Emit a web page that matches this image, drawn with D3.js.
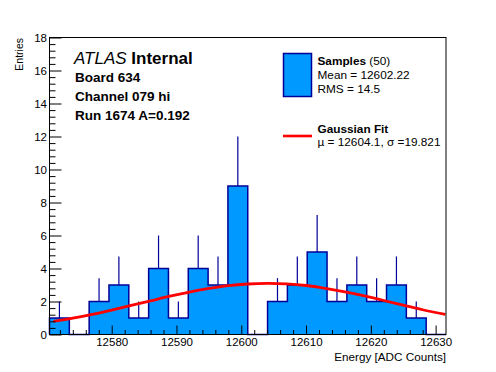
<!DOCTYPE html>
<html>
<head>
<meta charset="utf-8">
<script src="https://cdn.jsdelivr.net/npm/d3@7"></script>
<style>
  body { margin: 0; background: #fff; }
  text { font-family: "Liberation Sans", Arial, sans-serif; }
</style>
</head>
<body>
<div id="chart"></div>
<script>
// histogram bin contents (20 bins across the x range)
var binCounts = [1, 0, 2, 3, 1, 4, 1, 4, 3, 9, 0, 2, 3, 5, 2, 3, 2, 3, 1, 0];
var xRange = [12570.4, 12631.6];
var yRange = [0, 18];
var xTicks = [12580, 12590, 12600, 12610, 12620, 12630];
var yTicks = [0, 2, 4, 6, 8, 10, 12, 14, 16, 18];

// gaussian fit curve
var fitEnergy = [12571, 12574, 12577, 12580, 12583, 12586, 12589, 12592, 12595, 12598, 12601, 12604, 12607, 12610, 12613, 12616, 12619, 12622, 12625, 12628, 12631.5];
var fitValue  = [0.79, 0.99, 1.22, 1.48, 1.76, 2.04, 2.32, 2.57, 2.79, 2.96, 3.06, 3.1, 3.07, 2.97, 2.8, 2.59, 2.34, 2.06, 1.78, 1.5, 1.22];

var svgWidth = 496, svgHeight = 372;
var plotL = 49.5, plotR = 446, plotT = 37.5, plotB = 334.5;
var blueFill = "#0099ff", blueLine = "#000099";

var svg = d3.select("#chart").append("svg")
    .attr("width", svgWidth)
    .attr("height", svgHeight);

var x = d3.scaleLinear().domain(xRange).range([plotL, plotR]);
var y = d3.scaleLinear().domain(yRange).range([plotB, plotT]);

var nBins = binCounts.length;
var binW = (xRange[1] - xRange[0]) / nBins;

// histogram step outline
var pts = [[x(xRange[0]), y(0)]];
binCounts.forEach(function(c, i) {
    var lo = xRange[0] + i * binW, hi = lo + binW;
    pts.push([x(lo), y(c)]);
    pts.push([x(hi), y(c)]);
});
pts.push([x(xRange[1]), y(0)]);

svg.append("path")
    .attr("d", d3.line()(pts))
    .attr("fill", blueFill)
    .attr("stroke", blueLine)
    .attr("stroke-width", 1.5);

// error bars (upper half shows above the fill)
svg.selectAll(".err")
    .data(binCounts.map(function(c, i) { return {c: c, i: i}; }).filter(function(d) { return d.c > 0; }))
    .enter().append("line")
    .attr("class", "err")
    .attr("x1", function(d) { return x(xRange[0] + (d.i + 0.5) * binW); })
    .attr("x2", function(d) { return x(xRange[0] + (d.i + 0.5) * binW); })
    .attr("y1", function(d) { return y(d.c); })
    .attr("y2", function(d) { return y(d.c + Math.sqrt(d.c)); })
    .attr("stroke", blueLine)
    .attr("stroke-width", 1.2);

// fit line
var fitLine = d3.line()
    .x(function(d) { return x(d[0]); })
    .y(function(d) { return y(d[1]); })
    .curve(d3.curveCatmullRom);
svg.append("path")
    .attr("d", fitLine(fitEnergy.map(function(e, i) { return [e, fitValue[i]]; })))
    .attr("fill", "none")
    .attr("stroke", "#ff0000")
    .attr("stroke-width", 2.8);

// axes
var xMinor = d3.range(12572, 12631, 2).filter(function(v) { return xTicks.indexOf(v) < 0; });
var yMinor = d3.range(0, 18.01, 0.4).filter(function(v) { return Math.abs(v / 2 - Math.round(v / 2)) > 0.01; });

var gx = svg.append("g").attr("transform", "translate(0," + plotB + ")");
gx.call(d3.axisBottom(x).tickValues(xTicks).tickSize(-9).tickPadding(3.5).tickFormat(d3.format("d")));
gx.append("g").call(d3.axisBottom(x).tickValues(xMinor).tickSize(-4.5).tickFormat(""));

var gy = svg.append("g").attr("transform", "translate(" + plotL + ",0)");
gy.call(d3.axisLeft(y).tickValues(yTicks).tickSize(-12).tickPadding(2.5));
gy.append("g").call(d3.axisLeft(y).tickValues(yMinor).tickSize(-6).tickFormat(""));

svg.selectAll(".domain").remove();
svg.selectAll(".tick line").attr("stroke", "#000").attr("stroke-width", 1);
svg.selectAll(".tick text").attr("font-size", "11.5px").attr("fill", "#000")
    .style("font-family", "'Liberation Sans', Arial, sans-serif");

// frame
svg.append("rect")
    .attr("x", plotL).attr("y", plotT)
    .attr("width", plotR - plotL).attr("height", plotB - plotT)
    .attr("fill", "none").attr("stroke", "#000").attr("stroke-width", 1);

// axis titles
svg.append("text")
    .attr("x", plotR).attr("y", 361)
    .attr("text-anchor", "end").attr("font-size", "11.7px")
    .text("Energy [ADC Counts]");
svg.append("text")
    .attr("transform", "translate(23,38) rotate(-90)")
    .attr("text-anchor", "end").attr("font-size", "10.5px")
    .text("Entries");

// ATLAS label block
var atlas = svg.append("text").attr("x", 74).attr("y", 64).attr("font-size", "17px");
atlas.append("tspan").attr("font-style", "italic").text("ATLAS");
atlas.append("tspan").attr("font-weight", "bold").text(" Internal");

var info = ["Board 634", "Channel 079 hi", "Run 1674 A=0.192"];
var infoY = [82, 101, 120];
info.forEach(function(t, i) {
    svg.append("text").attr("x", 75).attr("y", infoY[i])
        .attr("font-size", "13.5px").attr("font-weight", "bold").text(t);
});

// legend
svg.append("rect")
    .attr("x", 283.5).attr("y", 53.5).attr("width", 28).attr("height", 43)
    .attr("fill", blueFill).attr("stroke", blueLine).attr("stroke-width", 1.5);
var s = svg.append("text").attr("x", 317.5).attr("y", 65).attr("font-size", "11.8px");
s.append("tspan").attr("font-weight", "bold").text("Samples");
s.append("tspan").text(" (50)");
svg.append("text").attr("x", 317.5).attr("y", 79).attr("font-size", "11.8px").text("Mean = 12602.22");
svg.append("text").attr("x", 317.5).attr("y", 92.5).attr("font-size", "11.8px").text("RMS = 14.5");

svg.append("line")
    .attr("x1", 283).attr("x2", 312).attr("y1", 136).attr("y2", 136)
    .attr("stroke", "#ff0000").attr("stroke-width", 2.6);
svg.append("text").attr("x", 317.5).attr("y", 132.5).attr("font-size", "11.8px")
    .attr("font-weight", "bold").text("Gaussian Fit");
svg.append("text").attr("x", 317.5).attr("y", 146).attr("font-size", "11.8px")
    .text("\u00b5 = 12604.1, \u03c3 =19.821");
</script>
</body>
</html>
